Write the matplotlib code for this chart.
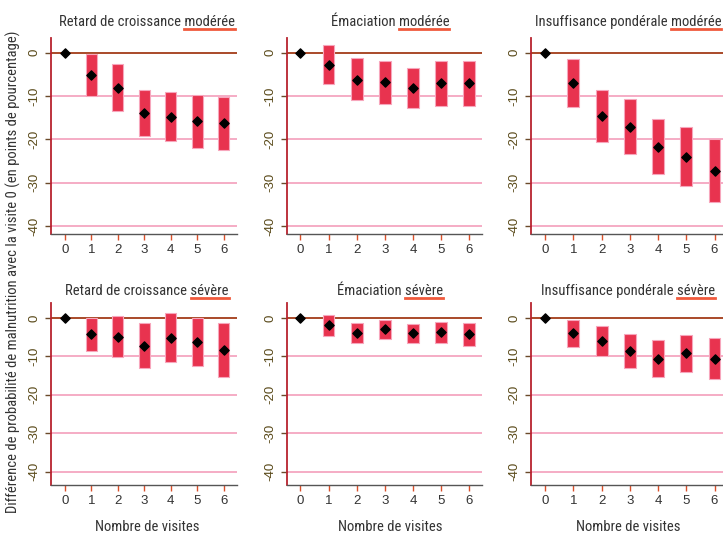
import matplotlib
matplotlib.use("Agg")
import matplotlib.pyplot as plt
from matplotlib import font_manager

visits = [0, 1, 2, 3, 4, 5, 6]

titles_main = ["Retard de croissance", "Émaciation", "Insuffisance pondérale",
               "Retard de croissance", "Émaciation", "Insuffisance pondérale"]
titles_word = ["modérée", "modérée", "modérée", "sévère", "sévère", "sévère"]

# point estimates
retard_mod = [0, -5.1, -8.1, -13.9, -14.8, -15.8, -16.2]
emac_mod = [0, -2.8, -6.2, -6.8, -8.2, -7.0, -7.0]
insuf_mod = [0, -7.0, -14.5, -17.2, -21.8, -24.0, -27.2]
retard_sev = [0, -4.2, -5.0, -7.2, -5.1, -6.3, -8.3]
emac_sev = [0, -1.9, -3.8, -2.9, -3.9, -3.7, -4.3]
insuf_sev = [0, -4.0, -6.0, -8.7, -10.7, -9.25, -10.6]

# confidence interval upper / lower
retard_mod_hi = [0, -0.4, -2.7, -8.6, -9.1, -9.7, -10.1]
retard_mod_lo = [0, -9.9, -13.4, -19.2, -20.4, -21.9, -22.5]
emac_mod_hi = [0, 1.7, -1.3, -1.8, -3.6, -1.8, -1.9]
emac_mod_lo = [0, -7.2, -10.8, -11.8, -12.7, -12.3, -12.2]
insuf_mod_hi = [0, -1.5, -8.5, -10.7, -15.3, -17.1, -20.0]
insuf_mod_lo = [0, -12.5, -20.5, -23.4, -28.0, -30.8, -34.4]
retard_sev_hi = [0, 0.0, 0.5, -1.25, 1.4, -0.1, -1.4]
retard_sev_lo = [0, -8.5, -10.2, -13.0, -11.4, -12.6, -15.3]
emac_sev_hi = [0, 0.9, -1.2, -0.5, -1.5, -1.0, -1.4]
emac_sev_lo = [0, -4.7, -6.4, -5.4, -6.4, -6.4, -7.3]
insuf_sev_hi = [0, -0.4, -2.0, -4.2, -5.8, -4.4, -5.25]
insuf_sev_lo = [0, -7.5, -10.0, -13.1, -15.4, -14.0, -15.8]

points = [retard_mod, emac_mod, insuf_mod, retard_sev, emac_sev, insuf_sev]
his = [retard_mod_hi, emac_mod_hi, insuf_mod_hi, retard_sev_hi, emac_sev_hi, insuf_sev_hi]
los = [retard_mod_lo, emac_mod_lo, insuf_mod_lo, retard_sev_lo, emac_sev_lo, insuf_sev_lo]

yticks = [0, -10, -20, -30, -40]

avail = {f.name for f in font_manager.fontManager.ttflist}
cands = ["Roboto Condensed", "Liberation Sans Narrow", "Open Sans Condensed", "Roboto"]
narrow = next((c for c in cands if c in avail), "DejaVu Sans")
plt.rcParams['font.family'] = ['Liberation Sans', 'DejaVu Sans']

W, H = 723, 535
fig = plt.figure(figsize=(W / 100, H / 100), dpi=100)

BAR = "#e8334f"
BAR_EDGE = "#f7a6bc"
GRID = "#f5a6c0"
ZERO = "#a33c18"
SPINE_L = "#b8232e"
UNDER = "#f05a3c"
TXT = "#333333"

# axes pixel boxes: left, right, top, bottom
cols = [(51, 237), (287, 482), (531, 723)]
rows = [(38, 234), (303, 485)]
xl = [(-0.53, 6.5), (-0.48, 6.46), (-0.5, 6.3)]
ylims = [(-41.8, 3.4), (-43.5, 3.9)]

axes = []
for r in range(2):
    for c in range(3):
        i = r * 3 + c
        l, rr = cols[c]
        t, b = rows[r]
        ax = fig.add_axes([l / W, 1 - b / H, (rr - l) / W, (b - t) / H])
        axes.append(ax)
        for y in yticks[1:]:
            ax.axhline(y, color=GRID, lw=1.3, zorder=1)
        ax.axhline(0, color=ZERO, lw=1.3, zorder=1)
        hi = his[i]
        lo = los[i]
        xs = visits[1:]
        heights = [hi[k] - lo[k] for k in xs]
        bottoms = [lo[k] for k in xs]
        ax.bar(xs, heights, bottom=bottoms, width=0.42, color=BAR,
               edgecolor=BAR_EDGE, linewidth=0.8, zorder=2)
        ax.scatter(visits, points[i], marker="D", s=22, color="black", zorder=3)
        ax.set_xlim(*xl[c])
        ax.set_ylim(*ylims[r])
        ax.set_xticks(visits)
        ax.set_xticklabels([str(v) for v in visits], fontsize=9.5, color=TXT)
        ax.set_yticks(yticks)
        ax.set_yticklabels([str(y) for y in yticks], fontsize=9.5, color="#5a4a1a",
                           rotation=90, va="center")
        ax.tick_params(axis="x", colors="#d9502a", labelcolor=TXT, length=4, width=1)
        ax.tick_params(axis="y", colors="#6b4a2a", labelcolor="#5a4a1a", length=4, width=1)
        for s in ["top", "right"]:
            ax.spines[s].set_visible(False)
        ax.spines["left"].set_color(SPINE_L)
        ax.spines["left"].set_linewidth(1.3)
        ax.spines["bottom"].set_color("#555555")
        ax.spines["bottom"].set_linewidth(1.0)

fig.canvas.draw()
renderer = fig.canvas.get_renderer()

title_y = [21, 290]
title_cx = [147, 390, 628]
for r in range(2):
    for c in range(3):
        i = r * 3 + c
        full = titles_main[i] + " " + titles_word[i]
        x = title_cx[c] / W
        t = fig.text(x, 1 - (title_y[r] + 5) / H, full, ha="center", va="baseline",
                     family=narrow, fontsize=10.5, color=TXT)
        bb = t.get_window_extent(renderer)
        tmp = fig.text(0, 0, titles_word[i], family=narrow, fontsize=10.5)
        wb = tmp.get_window_extent(renderer)
        tmp.remove()
        x1 = bb.x1
        x0 = bb.x1 - wb.width
        yline = H - (title_y[r] + 8)
        fig.add_artist(plt.Line2D([x0 / W, x1 / W], [yline / H, yline / H],
                                  color=UNDER, lw=2, transform=fig.transFigure))
    if r == 1:
        for c in range(3):
            fig.text(title_cx[c] / W, 1 - 527 / H, "Nombre de visites", ha="center",
                     va="center", family=narrow, fontsize=10.5, color=TXT)

fig.text(13 / W, 1 - 272 / H,
         "Différence de probabilité de malnutrition avec la visite 0 (en points de pourcentage)",
         rotation=90, ha="center", va="center", family=narrow, fontsize=10.5, color=TXT)

fig.savefig("out.png", dpi=100)
